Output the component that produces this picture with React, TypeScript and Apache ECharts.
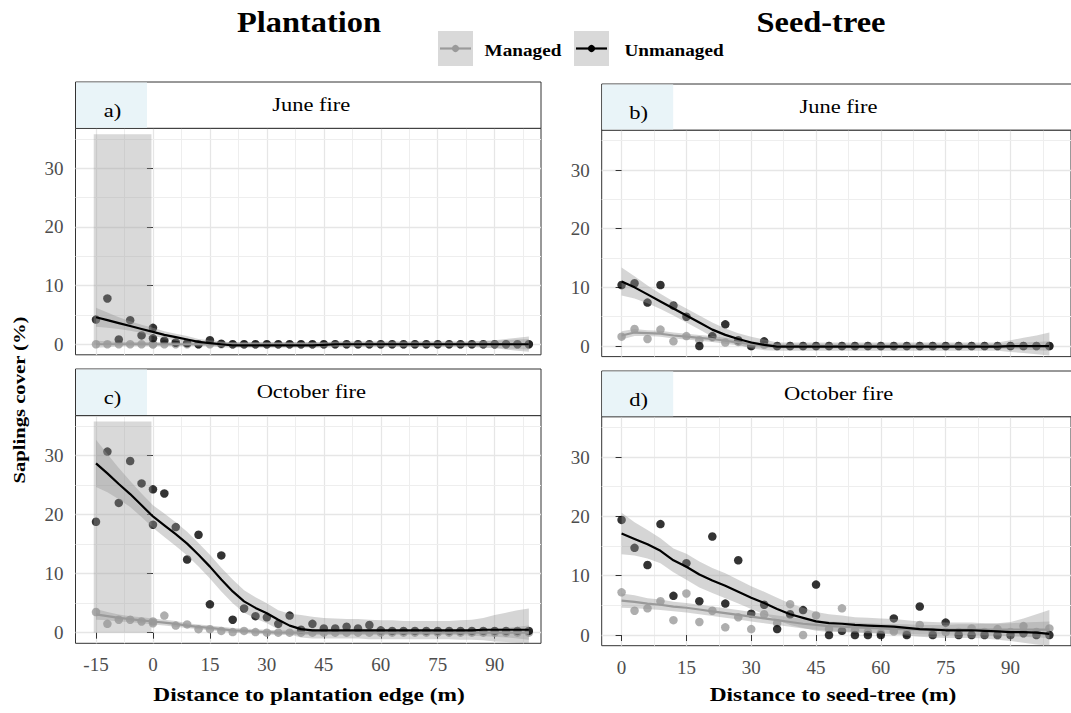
import React, { useEffect, useRef } from "react";
import * as echarts from "echarts";

// ---------- data ----------
// plantation transects (two observations at the edge, x = 0)
const plantX = [-15, -12, -9, -6, -3, 0, 0, 3, 6, 9, 12, 15, 18, 21, 24, 27, 30, 33, 36, 39, 42, 45, 48, 51, 54, 57, 60, 63, 66, 69, 72, 75, 78, 81, 84, 87, 90, 93, 96, 99];
const plantFitX = [-15, -12, -9, -6, -3, 0, 3, 6, 9, 12, 15, 18, 21, 24, 27, 30, 33, 36, 39, 42, 45, 48, 51, 54, 57, 60, 63, 66, 69, 72, 75, 78, 81, 84, 87, 90, 93, 96, 99];
const seedX = [0, 3, 6, 9, 12, 15, 18, 21, 24, 27, 30, 33, 36, 39, 42, 45, 48, 51, 54, 57, 60, 63, 66, 69, 72, 75, 78, 81, 84, 87, 90, 93, 96, 99];

// a) Plantation, June fire
const aUnmanaged = [4.2, 7.8, 0.8, 4.1, 1.5, 2.8, 1.0, 0.6, 0.3, 0.2, 0.0, 0.7, 0.1, 0, 0, 0, 0, 0, 0, 0, 0, 0, 0, 0, 0, 0, 0, 0, 0, 0, 0, 0, 0, 0, 0, 0, 0, 0, 0, 0];
const aManaged = [0, 0, 0, 0, 0, 0, 0, 0, 0, 0, 0, 0, 0, 0, 0, 0, 0, 0, 0, 0, 0, 0, 0, 0, 0, 0, 0, 0, 0, 0, 0, 0, 0, 0, 0, 0, 0, 0, 0, 0];
const aUnFit = [4.6, 4.1, 3.6, 3.1, 2.6, 2.1, 1.6, 1.2, 0.8, 0.4, 0.2, 0.0, -0.2, -0.2, -0.2, -0.2, -0.2, -0.2, -0.2, -0.2, -0.1, 0, 0, 0, 0, 0, 0, 0, 0, 0, 0, 0, 0, 0, 0, 0, 0, 0, 0];
const aUnLo = [3.0, 2.8, 2.6, 2.3, 1.9, 1.4, 1.0, 0.6, 0.2, -0.1, -0.3, -0.5, -0.6, -0.6, -0.6, -0.6, -0.6, -0.6, -0.6, -0.6, -0.6, -0.5, -0.5, -0.5, -0.5, -0.5, -0.5, -0.5, -0.5, -0.5, -0.5, -0.5, -0.5, -0.5, -0.6, -0.7, -0.9, -1.1, -1.3];
const aUnHi = [6.2, 5.4, 4.6, 3.9, 3.3, 2.8, 2.2, 1.8, 1.4, 0.9, 0.7, 0.5, 0.3, 0.3, 0.3, 0.3, 0.3, 0.3, 0.3, 0.3, 0.3, 0.5, 0.5, 0.5, 0.5, 0.5, 0.5, 0.5, 0.5, 0.5, 0.5, 0.5, 0.5, 0.5, 0.6, 0.7, 0.9, 1.1, 1.3];
const aMgFit = [0, 0, 0, 0, 0, 0, 0, 0, 0, 0, 0, 0, 0, 0, 0, 0, 0, 0, 0, 0, 0, 0, 0, 0, 0, 0, 0, 0, 0, 0, 0, 0, 0, 0, 0, 0, 0, 0, 0];
const aMgLo = [-0.6, -0.5, -0.4, -0.4, -0.4, -0.4, -0.4, -0.4, -0.4, -0.4, -0.4, -0.4, -0.4, -0.4, -0.4, -0.4, -0.4, -0.4, -0.4, -0.4, -0.4, -0.4, -0.4, -0.4, -0.4, -0.4, -0.4, -0.4, -0.4, -0.4, -0.4, -0.4, -0.4, -0.4, -0.5, -0.6, -0.7, -0.8, -0.9];
const aMgHi = [0.6, 0.5, 0.4, 0.4, 0.4, 0.4, 0.4, 0.4, 0.4, 0.4, 0.4, 0.4, 0.4, 0.4, 0.4, 0.4, 0.4, 0.4, 0.4, 0.4, 0.4, 0.4, 0.4, 0.4, 0.4, 0.4, 0.4, 0.4, 0.4, 0.4, 0.4, 0.4, 0.4, 0.4, 0.5, 0.6, 0.7, 0.8, 0.9];

// b) Seed-tree, June fire
const bUnmanaged = [10.4, 10.7, 7.4, 10.4, 6.9, 5.0, 0.0, 1.7, 3.7, 1.0, 0.0, 0.8, 0, 0, 0, 0, 0, 0, 0, 0, 0, 0, 0, 0, 0, 0, 0, 0, 0, 0, 0, 0, 0, 0];
const bManaged = [1.6, 2.9, 1.2, 2.8, 0.8, 1.7, 1.0, 1.5, 0.6, 0.7, 0.0, 0.2, 0, 0, 0, 0, 0, 0, 0, 0, 0, 0, 0, 0, 0, 0, 0, 0, 0, 0, 0, 0, 0, 0];
const bUnFit = [11.0, 10.0, 8.8, 7.6, 6.4, 5.2, 4.0, 2.8, 1.9, 1.2, 0.6, 0.2, -0.1, -0.1, -0.1, -0.1, -0.1, -0.1, -0.1, -0.1, -0.1, -0.1, -0.1, -0.1, -0.1, -0.1, -0.1, -0.1, -0.1, -0.1, 0, 0, 0, 0];
const bUnLo = [8.6, 8.1, 7.3, 6.3, 5.2, 4.0, 2.8, 1.6, 0.8, 0.2, -0.4, -0.7, -0.8, -0.8, -0.8, -0.8, -0.8, -0.8, -0.8, -0.8, -0.8, -0.8, -0.8, -0.8, -0.8, -0.8, -0.8, -0.8, -0.8, -0.8, -1.0, -1.2, -1.4, -1.6];
const bUnHi = [13.4, 11.9, 10.3, 8.9, 7.6, 6.4, 5.2, 4.0, 3.0, 2.2, 1.6, 1.1, 0.6, 0.6, 0.6, 0.6, 0.6, 0.6, 0.6, 0.6, 0.6, 0.6, 0.6, 0.6, 0.6, 0.6, 0.6, 0.6, 0.6, 0.6, 1.0, 1.4, 1.8, 2.3];
const bMgFit = [1.8, 2.3, 2.2, 2.1, 1.8, 1.6, 1.4, 1.2, 0.9, 0.6, 0.3, 0.1, 0, 0, 0, 0, 0, 0, 0, 0, 0, 0, 0, 0, 0, 0, 0, 0, 0, 0, 0, 0, 0, 0];
const bMgLo = [1.1, 1.7, 1.7, 1.6, 1.3, 1.1, 0.9, 0.7, 0.4, 0.1, -0.2, -0.3, -0.4, -0.4, -0.4, -0.4, -0.4, -0.4, -0.4, -0.4, -0.4, -0.4, -0.4, -0.4, -0.4, -0.4, -0.4, -0.4, -0.4, -0.4, -0.5, -0.6, -0.7, -0.8];
const bMgHi = [2.5, 2.9, 2.7, 2.6, 2.3, 2.1, 1.9, 1.7, 1.4, 1.1, 0.8, 0.5, 0.4, 0.4, 0.4, 0.4, 0.4, 0.4, 0.4, 0.4, 0.4, 0.4, 0.4, 0.4, 0.4, 0.4, 0.4, 0.4, 0.4, 0.4, 0.5, 0.6, 0.7, 0.8];

// c) Plantation, October fire
const cUnmanaged = [18.8, 30.7, 22.0, 29.1, 25.3, 24.3, 18.3, 23.6, 17.9, 12.4, 16.6, 4.8, 13.1, 2.2, 4.1, 2.8, 2.6, 1.5, 2.9, 0.5, 1.5, 0.7, 0.7, 1.0, 0.7, 1.3, 0.4, 0.3, 0.3, 0.3, 0.3, 0.3, 0.3, 0.3, 0.3, 0.3, 0.3, 0.3, 0.3, 0.3];
const cManaged = [3.5, 1.5, 2.2, 2.2, 1.9, 1.9, 1.6, 2.9, 1.2, 1.4, 0.6, 0.6, 0.3, 0.1, 0.3, 0.1, 0, 0, 0, 0, 0, 0, 0, 0, 0, 0, 0, 0, 0, 0, 0, 0, 0, 0, 0, 0, 0, 0, 0, 0];
const cUnFit = [28.7, 27.0, 25.2, 23.5, 21.6, 19.7, 18.2, 16.7, 15.1, 13.2, 11.2, 9.0, 7.0, 5.3, 4.2, 3.3, 2.2, 1.2, 0.6, 0.4, 0.4, 0.4, 0.4, 0.4, 0.4, 0.4, 0.4, 0.4, 0.4, 0.4, 0.4, 0.4, 0.4, 0.4, 0.5, 0.5, 0.5, 0.5, 0.5];
const cUnLo = [24.7, 23.8, 22.6, 21.3, 19.6, 17.8, 16.2, 14.7, 13.1, 11.2, 9.2, 7.0, 5.0, 3.4, 2.4, 1.6, 0.6, -0.3, -0.8, -1.0, -1.0, -1.0, -1.0, -1.0, -1.1, -1.1, -1.1, -1.1, -1.1, -1.1, -1.1, -1.1, -1.2, -1.2, -1.3, -1.5, -1.6, -1.7, -1.8];
const cUnHi = [32.7, 30.3, 27.9, 25.7, 23.6, 21.6, 20.2, 18.7, 17.1, 15.2, 13.2, 11.0, 9.0, 7.2, 6.0, 5.0, 3.8, 3.2, 3.0, 2.7, 2.5, 2.4, 2.3, 2.3, 2.2, 2.1, 2.1, 2.0, 2.0, 2.0, 2.0, 2.0, 2.1, 2.2, 2.5, 3.0, 3.4, 3.8, 4.1];
const cMgFit = [3.1, 2.8, 2.5, 2.3, 2.1, 1.9, 1.7, 1.5, 1.2, 1.0, 0.8, 0.6, 0.4, 0.3, 0.2, 0.1, 0, 0, 0, 0, 0, 0, 0, 0, 0, 0, 0, 0, 0, 0, 0, 0, 0, 0, 0, 0, 0, 0, 0];
const cMgLo = [2.2, 2.1, 1.9, 1.8, 1.6, 1.4, 1.2, 1.0, 0.8, 0.6, 0.4, 0.2, 0.0, -0.1, -0.2, -0.3, -0.4, -0.4, -0.4, -0.4, -0.4, -0.4, -0.4, -0.4, -0.4, -0.4, -0.4, -0.4, -0.4, -0.4, -0.4, -0.4, -0.4, -0.5, -0.6, -0.7, -0.8, -1.0, -1.2];
const cMgHi = [4.0, 3.5, 3.1, 2.8, 2.6, 2.4, 2.2, 2.0, 1.6, 1.4, 1.2, 1.0, 0.8, 0.7, 0.6, 0.5, 0.4, 0.4, 0.4, 0.4, 0.4, 0.4, 0.4, 0.4, 0.4, 0.4, 0.4, 0.4, 0.4, 0.4, 0.4, 0.4, 0.4, 0.5, 0.6, 0.7, 0.8, 1.0, 1.2];

// d) Seed-tree, October fire
const dUnmanaged = [19.4, 14.7, 11.8, 18.7, 6.6, 12.1, 5.7, 16.6, 5.3, 12.6, 3.6, 5.1, 1.0, 3.5, 4.2, 8.5, 0, 0.7, 0, 0, 0, 2.8, 0, 4.8, 0, 2.1, 0, 0, 0, 0, 0, 0.3, 0, 0];
const dManaged = [7.2, 4.1, 4.5, 5.7, 2.5, 7.0, 2.2, 4.1, 1.3, 3.0, 1.0, 3.5, 2.0, 5.2, 0, 3.3, 1.0, 4.5, 0.8, 0.5, 0.3, 0.6, 0.3, 1.7, 0.5, 0.5, 0.5, 1.1, 0.5, 1.0, 0.5, 1.5, 0.5, 1.1];
const dUnFit = [17.1, 16.2, 15.3, 14.2, 12.6, 11.5, 10.2, 9.2, 8.3, 7.3, 6.3, 5.4, 4.4, 3.5, 2.9, 2.3, 2.0, 1.9, 1.7, 1.6, 1.5, 1.4, 1.2, 1.0, 0.9, 0.8, 0.8, 0.8, 0.7, 0.6, 0.5, 0.5, 0.4, 0.2];
const dUnLo = [13.6, 13.4, 12.9, 12.1, 10.6, 9.3, 8.0, 7.1, 6.2, 5.3, 4.4, 3.5, 2.5, 1.7, 1.2, 0.7, 0.5, 0.5, 0.4, 0.3, 0.2, 0.1, -0.1, -0.3, -0.4, -0.5, -0.5, -0.5, -0.6, -0.8, -1.0, -1.3, -1.6, -1.8];
const dUnHi = [20.6, 19.0, 17.7, 16.3, 14.6, 13.7, 12.4, 11.3, 10.4, 9.3, 8.2, 7.3, 6.3, 5.3, 4.6, 3.9, 3.5, 3.3, 3.0, 2.9, 2.8, 2.7, 2.5, 2.3, 2.2, 2.1, 2.1, 2.1, 2.0, 2.0, 2.2, 2.8, 3.5, 4.2];
const dMgFit = [5.8, 5.6, 5.3, 5.1, 4.8, 4.6, 4.3, 4.0, 3.7, 3.4, 3.1, 2.8, 2.5, 2.2, 1.9, 1.7, 1.5, 1.4, 1.3, 1.2, 1.1, 1.0, 1.0, 0.9, 0.9, 0.9, 0.9, 0.9, 0.9, 0.9, 0.9, 0.9, 0.9, 0.9];
const dMgLo = [4.6, 4.5, 4.4, 4.2, 4.0, 3.8, 3.5, 3.2, 2.9, 2.6, 2.3, 2.0, 1.7, 1.4, 1.1, 0.9, 0.7, 0.6, 0.5, 0.4, 0.3, 0.2, 0.2, 0.1, 0.1, 0.1, 0.0, 0.0, -0.1, -0.1, -0.2, -0.3, -0.4, -0.5];
const dMgHi = [7.0, 6.7, 6.2, 6.0, 5.6, 5.4, 5.1, 4.8, 4.5, 4.2, 3.9, 3.6, 3.3, 3.0, 2.7, 2.5, 2.3, 2.2, 2.1, 2.0, 1.9, 1.8, 1.8, 1.7, 1.7, 1.7, 1.8, 1.8, 1.9, 1.9, 2.0, 2.1, 2.2, 2.3];

// axis ticks
const plantTicks = [-15, 0, 15, 30, 45, 60, 75, 90];
const plantMinor = [-7.5, 7.5, 22.5, 37.5, 52.5, 67.5, 82.5, 97.5];
const seedTicks = [0, 15, 30, 45, 60, 75, 90];
const seedMinor = [7.5, 22.5, 37.5, 52.5, 67.5, 82.5, 97.5];
const yTicks = [0, 10, 20, 30];
const yMinor = [5, 15, 25, 35];

// edge zone of the plantation (shaded)
const edgeZone = [-15.6, -0.4];

// ---------- layout ----------
const FONT = "'Liberation Serif', 'Times New Roman', serif";
const Y_MIN = -1.8;
const Y_MAX = 36.8;

type Panel = {
  grid: { left: number; top: number; width: number; height: number };
  xMin: number;
  xMax: number;
  ticks: number[];
  minor: number[];
  bottom: boolean;
  ptsX: number[];
  un: number[];
  mg: number[];
  fitX: number[];
  unFit: number[];
  unLo: number[];
  unHi: number[];
  mgFit: number[];
  mgLo: number[];
  mgHi: number[];
  shade: boolean;
  stripTop: number;
  tag: string;
  title: string;
  titleDx: number;
};

const panels: Panel[] = [
  {
    grid: { left: 75.5, top: 128.3, width: 465.5, height: 226.5 },
    xMin: -20.4, xMax: 102.2, ticks: plantTicks, minor: plantMinor, bottom: false,
    ptsX: plantX, un: aUnmanaged, mg: aManaged, fitX: plantFitX,
    unFit: aUnFit, unLo: aUnLo, unHi: aUnHi, mgFit: aMgFit, mgLo: aMgLo, mgHi: aMgHi,
    shade: true, stripTop: 82, tag: "a)", title: "June fire", titleDx: 3,
  },
  {
    grid: { left: 601.7, top: 130.1, width: 475.7, height: 226.5 },
    xMin: -4.6, xMax: 104, ticks: seedTicks, minor: seedMinor, bottom: false,
    ptsX: seedX, un: bUnmanaged, mg: bManaged, fitX: seedX,
    unFit: bUnFit, unLo: bUnLo, unHi: bUnHi, mgFit: bMgFit, mgLo: bMgLo, mgHi: bMgHi,
    shade: false, stripTop: 84, tag: "b)", title: "June fire", titleDx: -1,
  },
  {
    grid: { left: 75.5, top: 415.6, width: 465.5, height: 227.7 },
    xMin: -20.4, xMax: 102.2, ticks: plantTicks, minor: plantMinor, bottom: true,
    ptsX: plantX, un: cUnmanaged, mg: cManaged, fitX: plantFitX,
    unFit: cUnFit, unLo: cUnLo, unHi: cUnHi, mgFit: cMgFit, mgLo: cMgLo, mgHi: cMgHi,
    shade: true, stripTop: 369, tag: "c)", title: "October fire", titleDx: 3,
  },
  {
    grid: { left: 601.7, top: 416.7, width: 475.7, height: 229 },
    xMin: -4.6, xMax: 104, ticks: seedTicks, minor: seedMinor, bottom: true,
    ptsX: seedX, un: dUnmanaged, mg: dManaged, fitX: seedX,
    unFit: dUnFit, unLo: dUnLo, unHi: dUnHi, mgFit: dMgFit, mgLo: dMgLo, mgHi: dMgHi,
    shade: false, stripTop: 371, tag: "d)", title: "October fire", titleDx: -1,
  },
];

const MANAGED = "#9a9a9a";
const UNMANAGED = "#000000";
const BAND = "rgba(150,150,150,0.4)";

function bandSeries(i: number, xs: number[], lo: number[], hi: number[], extra: any = {}) {
  return {
    type: "custom",
    xAxisIndex: i,
    yAxisIndex: i,
    z: 4,
    silent: true,
    clip: true,
    data: [[xs[0], lo[0]]],
    renderItem: (_params: any, api: any) => {
      const top = xs.map((x, k) => api.coord([x, hi[k]]));
      const bot = xs.map((x, k) => api.coord([x, lo[k]])).reverse();
      return {
        type: "polygon",
        shape: { points: top.concat(bot) },
        style: { fill: BAND },
      };
    },
    ...extra,
  };
}

function txt(x: number, y: number, text: string, font: string, sx: number, extra: any = {}) {
  return {
    type: "text",
    x,
    y,
    scaleX: sx,
    style: { text, fill: "#000", font, textAlign: "center", textVerticalAlign: "middle" },
    ...extra,
  };
}

function buildOption() {
  const grids: any[] = [];
  const xAxes: any[] = [];
  const yAxes: any[] = [];
  const series: any[] = [];
  const graphics: any[] = [];

  const labelStyle = { color: "#4d4d4d", fontSize: 19, fontFamily: FONT };

  panels.forEach((p, i) => {
    grids.push({ ...p.grid, show: true, borderColor: "#333333", borderWidth: 1, backgroundColor: "transparent", containLabel: false });
    xAxes.push({
      type: "value",
      gridIndex: i,
      min: p.xMin,
      max: p.xMax,
      axisLine: { show: false },
      splitLine: { show: false },
      axisTick: { show: p.bottom, length: 6, lineStyle: { color: "#333333" }, customValues: p.ticks },
      axisLabel: { show: p.bottom, customValues: p.ticks, margin: 12, ...labelStyle },
    });
    yAxes.push({
      type: "value",
      gridIndex: i,
      min: Y_MIN,
      max: Y_MAX,
      axisLine: { show: false },
      splitLine: { show: false },
      axisTick: { show: true, length: 6, lineStyle: { color: "#333333" }, customValues: yTicks },
      axisLabel: { show: true, customValues: yTicks, margin: 12, ...labelStyle },
    });

    const major = { color: "#e6e6e6", width: 1.3, type: "solid" };
    const minor = { color: "#eeeeee", width: 1, type: "solid" };
    series.push({
      type: "line",
      xAxisIndex: i,
      yAxisIndex: i,
      z: 1,
      silent: true,
      data: [[p.ticks[0], 0]],
      showSymbol: false,
      lineStyle: { opacity: 0 },
      markLine: {
        z: 0,
        silent: true,
        symbol: ["none", "none"],
        label: { show: false },
        data: [
          ...p.ticks.map((v) => ({ xAxis: v, lineStyle: major })),
          ...p.minor.map((v) => ({ xAxis: v, lineStyle: minor })),
          ...yTicks.map((v) => ({ yAxis: v, lineStyle: major })),
          ...yMinor.map((v) => ({ yAxis: v, lineStyle: minor })),
        ],
      },
    });

    series.push({
      type: "scatter",
      name: "Managed",
      xAxisIndex: i,
      yAxisIndex: i,
      z: 2,
      symbolSize: 8.5,
      itemStyle: { color: MANAGED },
      data: p.ptsX.map((x, k) => [x, p.mg[k]]),
    });
    series.push({
      type: "scatter",
      name: "Unmanaged",
      xAxisIndex: i,
      yAxisIndex: i,
      z: 3,
      symbolSize: 8.5,
      itemStyle: { color: UNMANAGED },
      data: p.ptsX.map((x, k) => [x, p.un[k]]),
    });

    series.push(bandSeries(i, p.fitX, p.mgLo, p.mgHi));
    series.push(
      bandSeries(
        i,
        p.fitX,
        p.unLo,
        p.unHi,
        p.shade
          ? {
              markArea: {
                z: 4,
                silent: true,
                itemStyle: { color: "rgba(150,150,150,0.36)" },
                data: [[{ xAxis: edgeZone[0], yAxis: 0 }, { xAxis: edgeZone[1], yAxis: 35.8 }]],
              },
            }
          : {}
      )
    );

    series.push({
      type: "line",
      xAxisIndex: i,
      yAxisIndex: i,
      z: 6,
      showSymbol: false,
      silent: true,
      lineStyle: { color: MANAGED, width: 2.2 },
      data: p.fitX.map((x, k) => [x, p.mgFit[k]]),
    });
    series.push({
      type: "line",
      xAxisIndex: i,
      yAxisIndex: i,
      z: 7,
      showSymbol: false,
      silent: true,
      lineStyle: { color: UNMANAGED, width: 2.2 },
      data: p.fitX.map((x, k) => [x, p.unFit[k]]),
    });

    // strip
    const sh = p.grid.top - p.stripTop;
    graphics.push({
      type: "rect",
      shape: { x: p.grid.left, y: p.stripTop, width: p.grid.width, height: sh },
      style: { fill: "#ffffff", stroke: "#333333", lineWidth: 1 },
      z: 10,
    });
    graphics.push({
      type: "rect",
      shape: { x: p.grid.left + 0.5, y: p.stripTop + 0.5, width: 71, height: sh - 1 },
      style: { fill: "#e9f4f8" },
      z: 11,
    });
    graphics.push(
      txt(p.grid.left + 37, p.stripTop + sh / 2 + 6, p.tag, `18px ${FONT}`, 1.25, { z: 12 })
    );
    graphics.push(
      txt(p.grid.left + p.grid.width / 2 + p.titleDx, p.stripTop + sh / 2, p.title, `18px ${FONT}`, 1.25, { z: 12 })
    );
  });

  // titles
  graphics.push(txt(309, 22, "Plantation", `bold 30px ${FONT}`, 1.08));
  graphics.push(txt(821, 22, "Seed-tree", `bold 30px ${FONT}`, 1.08));

  // legend
  const legendItems = [
    { x: 438, label: "Managed", color: MANAGED, tx: 523 },
    { x: 574, label: "Unmanaged", color: UNMANAGED, tx: 674 },
  ];
  legendItems.forEach((l) => {
    graphics.push({ type: "rect", shape: { x: l.x, y: 31, width: 35, height: 35 }, style: { fill: "#d9d9d9" } });
    graphics.push({ type: "line", shape: { x1: l.x + 2, y1: 48.5, x2: l.x + 33, y2: 48.5 }, style: { stroke: l.color, lineWidth: 2.2 }, z: 1 });
    graphics.push({ type: "circle", shape: { cx: l.x + 17.5, cy: 48.5, r: 3.6 }, style: { fill: l.color }, z: 2 });
    graphics.push(txt(l.tx, 50, l.label, `bold 17px ${FONT}`, 1.13));
  });

  // axis titles
  graphics.push(txt(20, 400, "Saplings cover (%)", `bold 16px ${FONT}`, 1.29, { rotation: Math.PI / 2 }));
  graphics.push(txt(309, 695, "Distance to plantation edge (m)", `bold 19px ${FONT}`, 1.23));
  graphics.push(txt(833, 695, "Distance to seed-tree (m)", `bold 19px ${FONT}`, 1.23));

  return {
    animation: false,
    backgroundColor: "#ffffff",
    grid: grids,
    xAxis: xAxes,
    yAxis: yAxes,
    series,
    graphic: { elements: graphics },
  };
}

export default function App() {
  const ref = useRef<HTMLDivElement>(null);
  useEffect(() => {
    if (!ref.current) return;
    const chart = echarts.init(ref.current, undefined, { renderer: "svg" });
    chart.setOption(buildOption() as any);
    return () => chart.dispose();
  }, []);
  return (
    <div
      ref={ref}
      style={{ position: "absolute", left: 0, top: 0, width: 1071, height: 713, background: "#ffffff" }}
    />
  );
}
